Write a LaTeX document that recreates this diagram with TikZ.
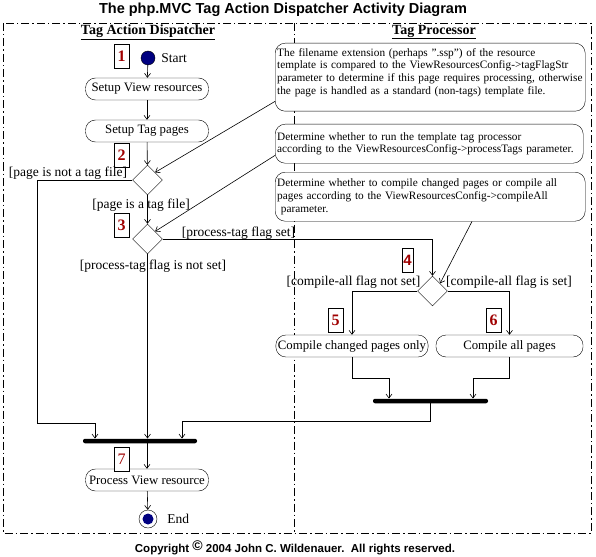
\documentclass[tikz,border=0pt]{standalone}
\usepackage{fontspec}
\setmainfont{Liberation Serif}
\newfontfamily\headfont{Liberation Sans}
\usetikzlibrary{shapes.geometric,arrows.meta,positioning}

\definecolor{startblue}{RGB}{0,0,128}
\definecolor{numred}{RGB}{160,0,0}

\tikzset{
  act/.style={draw, fill=white, rounded corners=10pt, minimum width=123pt, minimum height=22pt,
    inner sep=2pt, font=\fontsize{12.8}{15}\selectfont},
  note/.style={draw, fill=white, rounded corners=10pt, align=left, anchor=north west,
    inner sep=2pt, font=\fontsize{11.3}{12.8}\selectfont},
  choice/.style={draw, fill=white, diamond, minimum width=30pt, minimum height=30pt, inner sep=0pt},
  bar/.style={fill=black, rounded corners=2pt, minimum height=4.5pt, inner sep=0pt},
  stepnum/.style={draw, fill=white, minimum width=15pt, minimum height=24pt, inner sep=0pt,
    text=numred, font=\bfseries\fontsize{16}{16}\selectfont},
  guard/.style={inner sep=0pt, font=\fontsize{13.5}{15}\selectfont},
  flow/.style={-{Straight Barb[length=4pt,width=6pt]}, line width=0.6pt},
  lane/.style={line width=0.7pt, dash pattern=on 8pt off 3pt on 1.5pt off 3pt}
}

\begin{document}
\begin{tikzpicture}[x=1pt,y=-1pt]
  \useasboundingbox (0,0) rectangle (596,556);

  % title, swimlanes
  \node[font=\headfont\bfseries\fontsize{14.5}{16}\selectfont] (title) at (283,10)
    {The php.MVC Tag Action Dispatcher Activity Diagram};
  \draw[lane] (3,23) rectangle (591,533);
  \draw[lane] (294,23) -- (294,533);
  \node[font=\bfseries\fontsize{14}{16}\selectfont] (laneA) at (148,32) {\underline{Tag Action Dispatcher}};
  \node[font=\bfseries\fontsize{14}{16}\selectfont] (laneB) at (434,32) {\underline{Tag Processor}};

  % notes
  \node[note, text width=306pt, inner ysep=5pt] (n1) at (275,43) {\parbox[t][58pt][t]{306pt}{The filename extension (perhaps ".ssp") of the resource\\
    template is compared to the ViewResourcesConfig->tagFlagStr\\
    parameter to determine if this page requires processing, otherwise\\
    the page is handled as a standard (non-tags) template file.}};
  \node[note, text width=304pt, minimum height=39pt] (n2) at (275,124)
    {Determine whether to run the template tag processor\\
    according to the ViewResourcesConfig->processTags parameter.};
  \node[note, text width=306pt, minimum height=49pt] (n3) at (275,172)
    {Determine whether to compile changed pages or compile all\\
    pages according to the ViewResourcesConfig->compileAll\\
    \ parameter.};

  % activities
  \node[circle, draw, fill=startblue, minimum size=14pt, inner sep=0pt] (start) at (148,58) {};
  \node[right=6pt of start, inner sep=0pt, font=\fontsize{13.5}{15}\selectfont] (startlbl) {Start};
  \node[act] (setupView) at (147,89) {Setup View resources};
  \node[act] (setupTag) at (147,131) {Setup Tag pages};
  \node[choice] (d1) at (147.5,180) {};
  \node[choice] (d2) at (147.5,239) {};
  \node[choice] (d3) at (432.5,291) {};
  \node[act, minimum width=148pt] (compChanged) at (352,346) {Compile changed pages only};
  \node[act, minimum width=147pt] (compAll) at (509.5,346) {Compile all pages};
  \node[bar, minimum width=115pt] (bar2) at (430.5,401) {};
  \node[bar, minimum width=114pt] (bar1) at (140,441) {};
  \node[act] (process) at (147,480) {Process View resource};
  \node[circle, draw, fill=white, minimum size=18pt, inner sep=0pt] (end) at (148,519) {};
  \node[circle, fill=startblue, minimum size=11pt, inner sep=0pt] (endDot) at (end) {};
  \node[right=10pt of end, inner sep=0pt, font=\fontsize{13.5}{15}\selectfont] (endlbl) {End};

  % step numbers
  \node[stepnum] (s1) at (121.5,56) {1};
  \node[stepnum] (s2) at (121.5,155) {2};
  \node[stepnum] (s3) at (121.5,225) {3};
  \node[stepnum, minimum width=11pt, font=\headfont\bfseries\fontsize{15}{15}\selectfont] (s4) at (407.5,260) {4};
  \node[stepnum] (s5) at (335.5,320) {5};
  \node[stepnum] (s6) at (493.5,320) {6};
  \node[stepnum, font=\fontsize{16}{16}\selectfont] (s7) at (121.5,459) {7};

  % guards
  \node[guard] (g1) at (68,173) {[page is not a tag file]};
  \node[guard] (g2) at (141,205) {[page is a tag file]};
  \node[guard] (g3) at (238.5,233) {[process-tag flag set]};
  \node[guard] (g4) at (153,266) {[process-tag flag is not set]};
  \node[guard] (g5) at (353.5,282) {[compile-all flag not set]};
  \node[guard] (g6) at (509,282) {[compile-all flag is set]};

  % flow
  \draw[flow] (start) -- (setupView);
  \draw[flow] (setupView) -- (setupTag);
  \draw[flow] (setupTag) -- (d1);
  \draw[flow] (d1) -- (d2);
  \draw[flow] (d1.west) -| (37,423) -| ([xshift=-45pt]bar1.north);
  \draw[flow] (d2.south) -- (d2.south |- bar1.north);
  \draw[flow] (d2.east) -| (d3.north);
  \draw[flow] (d3.west) -| (compChanged.north);
  \draw[flow] (d3.east) -| (compAll.north);
  \draw[flow] (compChanged.south) -- ++(0,21) -| ([xshift=-41.5pt]bar2.north);
  \draw[flow] (compAll.south) -- ++(0,21) -| ([xshift=42.5pt]bar2.north);
  \draw[flow] (bar2.south) -- ++(0,18) -| ([xshift=42pt]bar1.north);
  \draw[flow] (bar1.south -| process.north) -- (process.north);
  \draw[flow] (process) -- (end);

  % note links
  \draw[flow] ([yshift=10pt]n1.south west) -- (d1.north east);
  \draw[flow] ([yshift=8pt]n2.south west) -- (d2.north east);
  \draw[flow] ([xshift=197pt]n3.south west) -- (d3.north east);

  \node[font=\headfont\bfseries\fontsize{11.5}{13}\selectfont] (copy) at (295,548)
    {Copyright \raisebox{1.5pt}{\fontsize{14}{14}\selectfont ©} 2004 John C. Wildenauer.\ \ All rights reserved.};
\end{tikzpicture}
\end{document}
